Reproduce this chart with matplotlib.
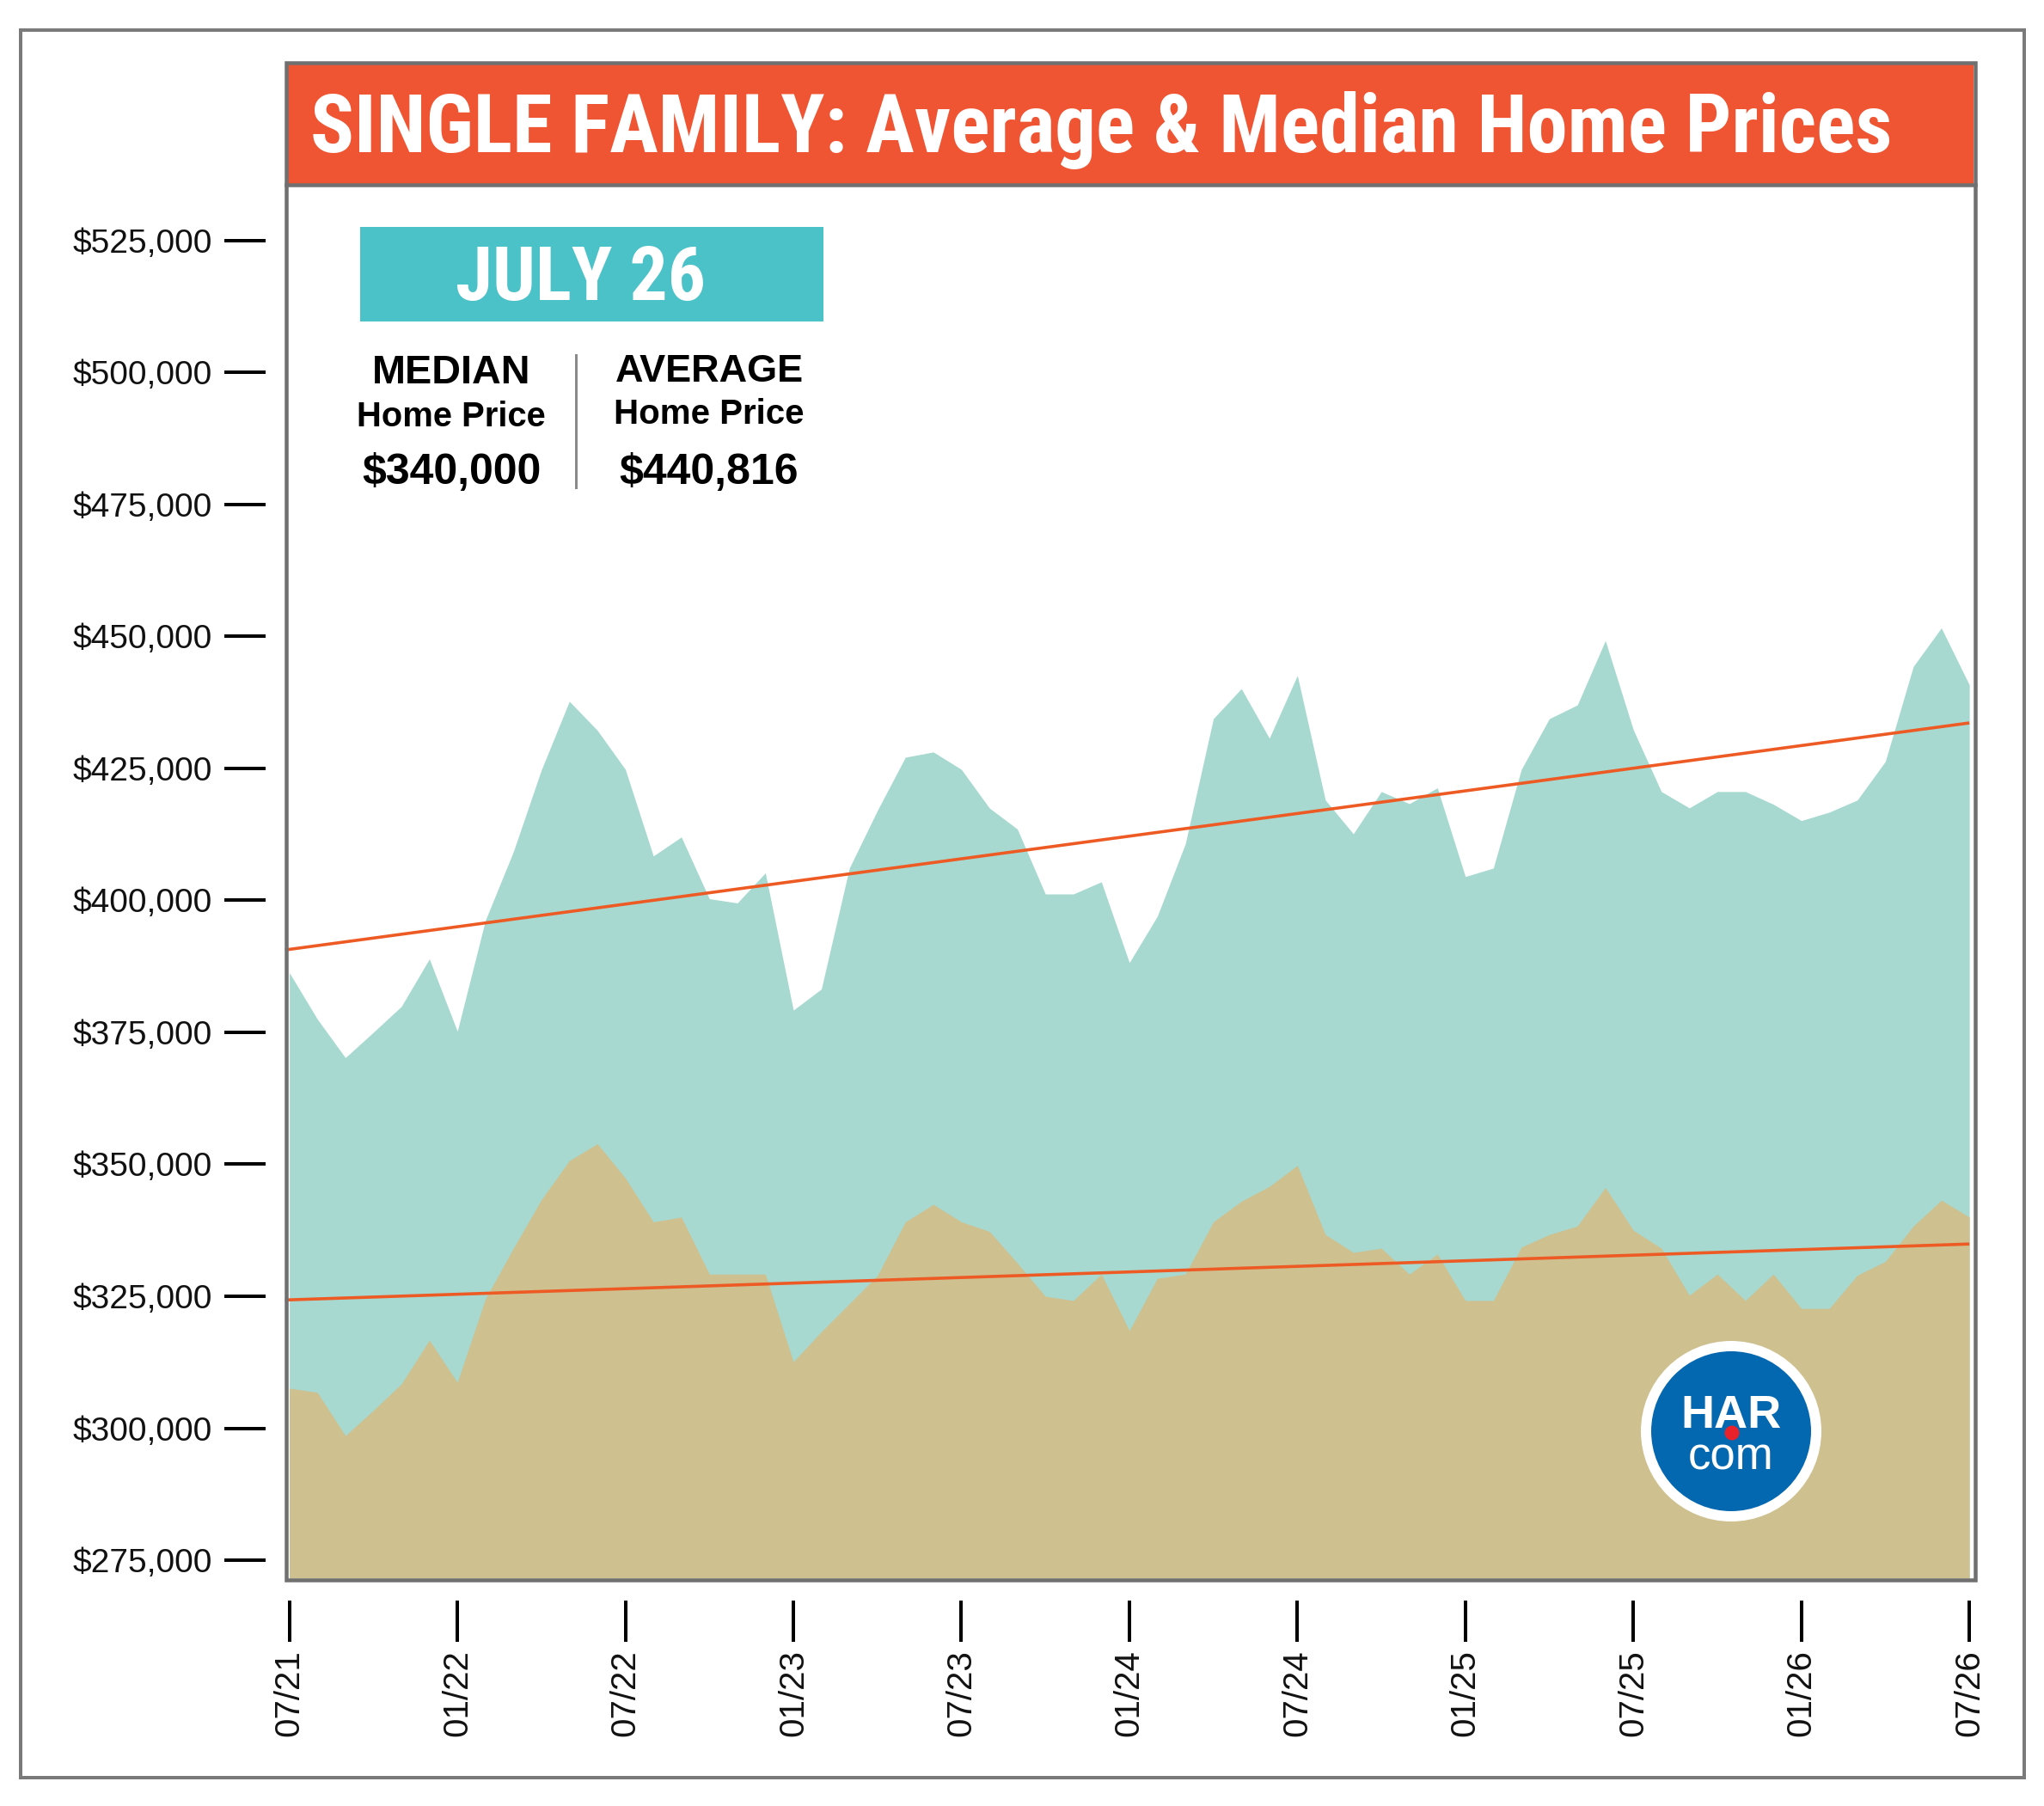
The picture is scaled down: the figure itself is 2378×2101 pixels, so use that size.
import matplotlib
matplotlib.use('Agg')
import matplotlib.pyplot as plt
from matplotlib.patches import Rectangle, Circle
from matplotlib.lines import Line2D
from matplotlib import font_manager

plt.rcParams['font.family'] = ['Liberation Sans', 'DejaVu Sans']

# ---------------- data ----------------
months = list(range(61))  # 07/21 .. 07/26
avg_price = [386300, 377500, 370200, 375000, 379900, 388900, 375200, 396200, 409200, 424700,
             437700, 432200, 424800, 408400, 412000, 400300, 399500, 405200, 379200, 383200,
             406100, 417000, 427100, 428100, 424800, 417500, 413500, 401200, 401200, 403500,
             388200, 397000, 410700, 434400, 440100, 430700, 442600, 419000, 412600, 420600,
             418300, 421300, 404500, 406100, 424800, 434400, 437000, 449200, 432300, 420600,
             417500, 420600, 420600, 418200, 415100, 416700, 419000, 426300, 444300, 451600,
             440816]
median_price = [307600, 306800, 298600, 303400, 308400, 316700, 308700, 324500, 334100, 343300,
                350700, 353900, 347400, 339100, 340000, 329200, 329200, 329200, 312600, 318300,
                323600, 328900, 339100, 342400, 339100, 337300, 331300, 325000, 324200, 329200,
                318500, 328400, 329200, 339100, 343000, 345800, 349800, 336700, 333300, 334100,
                329200, 333000, 324200, 324200, 334300, 336700, 338300, 345600, 337500, 334100,
                325200, 329200, 324200, 329200, 322700, 322700, 329000, 331600, 338300, 343200,
                340000]
trend_months = [-0.15, 60]
avg_trend = [390600, 433600]
median_trend = [324300, 334900]

tick_months = [0, 6, 12, 18, 24, 30, 36, 42, 48, 54, 60]
tick_labels = ['07/21', '01/22', '07/22', '01/23', '07/23', '01/24',
               '07/24', '01/25', '07/25', '01/26', '07/26']
ytick_values = [275000, 300000, 325000, 350000, 375000, 400000,
                425000, 450000, 475000, 500000, 525000]
ytick_labels = ['$275,000', '$300,000', '$325,000', '$350,000', '$375,000', '$400,000',
                '$425,000', '$450,000', '$475,000', '$500,000', '$525,000']

title_text = 'SINGLE FAMILY: Average & Median Home Prices'
period_text = 'JULY 26'
median_head = 'MEDIAN'
average_head = 'AVERAGE'
sub_head = 'Home Price'
median_now = '$340,000'
average_now = '$440,816'

# ---------------- layout helpers ----------------
W, H = 2378, 2101
PT = 72 / 100.0
fig = plt.figure(figsize=(W / 100, H / 100), dpi=100)
fig.patch.set_facecolor('white')


def fx(x):
    return x / W


def fy(y):
    return 1 - y / H


def has_font(name):
    try:
        font_manager.findfont(font_manager.FontProperties(family=name),
                              fallback_to_default=False)
        return True
    except Exception:
        return False


narrow = 'Liberation Sans'
for cand in ['Liberation Sans Narrow', 'Roboto Condensed', 'Open Sans Condensed',
             'DejaVu Sans Condensed']:
    if has_font(cand):
        narrow = cand
        break
NARROW = [narrow, 'Liberation Sans', 'DejaVu Sans']
WIDE = ['Liberation Sans', 'DejaVu Sans']

TEAL = '#A7D9D0'
TAN = '#CEC08F'
ORANGE = '#EE5A24'
GRAY = '#707070'

# ---------------- main axes ----------------
ymin, ymax = 271600, 535200
ax = fig.add_axes([fx(335), fy(1836), (2296 - 335) / W, (1836 - 217) / H])
ax.set_xlim(-0.05, 60.15)
ax.set_ylim(ymin, ymax)
ax.fill_between(months, avg_price, ymin, color=TEAL, lw=0, zorder=1)
ax.fill_between(months, median_price, ymin, color=TAN, lw=0, zorder=2)
ax.plot(trend_months, avg_trend, color=ORANGE, lw=3.6 * PT, zorder=3,
        solid_capstyle='butt', clip_on=False)
ax.plot(trend_months, median_trend, color=ORANGE, lw=3.6 * PT, zorder=3,
        solid_capstyle='butt', clip_on=False)

for s in ax.spines.values():
    s.set_visible(False)
ax.spines['left'].set_position(('outward', 26 * PT))
ax.spines['bottom'].set_position(('outward', 26 * PT))
ax.set_xticks(tick_months)
ax.set_xticklabels(tick_labels, rotation=90, fontsize=29, color='#111111')
ax.set_yticks(ytick_values)
ax.set_yticklabels(ytick_labels, fontsize=28, color='#111111')
ax.tick_params(axis='both', length=48 * PT, width=4 * PT, color='black', direction='out')
ax.tick_params(axis='y', pad=14 * PT)
ax.tick_params(axis='x', pad=9 * PT)

# ---------------- frames & title bar ----------------
fig.add_artist(Rectangle((fx(24), fy(2068)), (2355 - 24) / W, (2068 - 35) / H,
                         transform=fig.transFigure, fill=False, ec='#7a7a7a', lw=4 * PT, zorder=5))
fig.add_artist(Rectangle((fx(335), fy(214)), (2296 - 335) / W, (214 - 75) / H,
                         transform=fig.transFigure, fc='#F05533', ec='none', zorder=5))
fig.add_artist(Rectangle((fx(333), fy(1838)), (2298 - 333) / W, (1838 - 73) / H,
                         transform=fig.transFigure, fill=False, ec=GRAY, lw=4.5 * PT, zorder=6))
fig.add_artist(Line2D([fx(333), fx(2298)], [fy(215.5), fy(215.5)], transform=fig.transFigure,
                      color=GRAY, lw=4.5 * PT, zorder=6))

fig.canvas.draw()
renderer = fig.canvas.get_renderer()


def fit(t, target_w, max_size):
    w = t.get_window_extent(renderer).width
    size = t.get_fontsize() * target_w / w
    t.set_fontsize(min(size, max_size))


title = fig.text(fx(361), fy(177), title_text, color='white', fontsize=60,
                 fontweight='bold', family=NARROW,
                 ha='left', va='baseline', zorder=7)
fit(title, 1846, 68)

# ---------------- info box ----------------
fig.add_artist(Rectangle((fx(419), fy(374)), (958 - 419) / W, (374 - 264) / H,
                         transform=fig.transFigure, fc='#4BC1C8', ec='none', zorder=7))
t = fig.text(fx(676), fy(349), period_text, color='white', fontsize=58, fontweight='bold',
             family=NARROW, ha='center', va='baseline', zorder=8)
fit(t, 322, 63)

specs = [
    (525, 446, median_head, 184, 34),
    (525, 496, sub_head, 220, 30),
    (525, 563, median_now, 228, 36),
    (825, 444, average_head, 219, 34),
    (825, 493, sub_head, 221, 30),
    (825, 563, average_now, 217, 36),
]
for x, y, s, wt, mx in specs:
    t = fig.text(fx(x), fy(y), s, color='black', fontsize=30, fontweight='bold',
                 family=WIDE, ha='center', va='baseline', zorder=8)
    fit(t, wt, mx)

fig.add_artist(Line2D([fx(670), fx(670)], [fy(413), fy(567)], transform=fig.transFigure,
                      color='#8a8a8a', lw=3 * PT, zorder=8))

# ---------------- logo ----------------
lax = fig.add_axes([fx(2014 - 110), fy(1665 + 110), 220 / W, 220 / H], zorder=4)
lax.set_xlim(-110, 110)
lax.set_ylim(-110, 110)
lax.set_aspect('equal')
lax.axis('off')
lax.add_patch(Circle((0, 0), 105, fc='white', ec='none'))
lax.add_patch(Circle((0, 0), 93, fc='#0468B1', ec='none'))
lax.text(0, 4, 'HAR', color='white', fontsize=39, fontweight='bold', ha='center', va='baseline',
         family=WIDE)
lax.text(0, -44, 'com', color='white', fontsize=38, ha='center', va='baseline', family=WIDE)
lax.add_patch(Circle((1, -2), 8.5, fc='#E8212B', ec='none'))

fig.savefig('out.png', dpi=100, facecolor='white')
